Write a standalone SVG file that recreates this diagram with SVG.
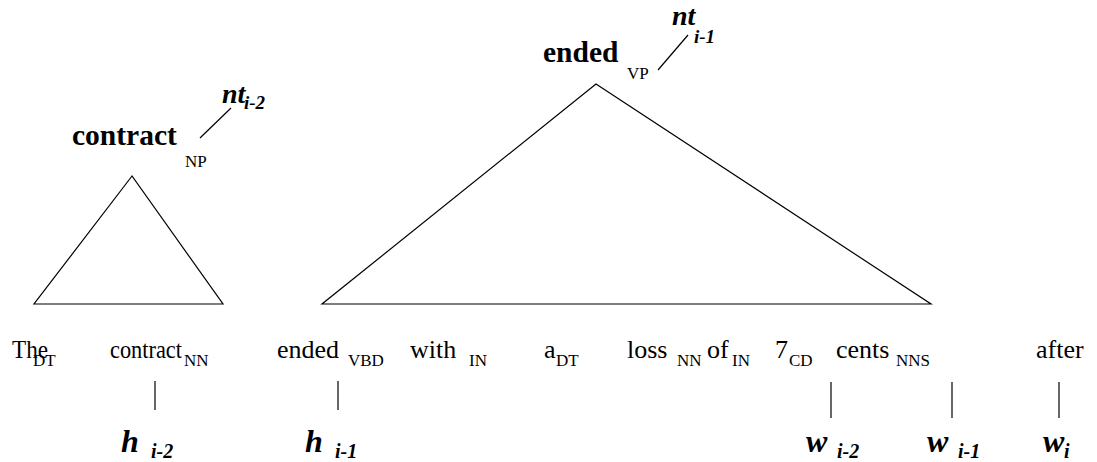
<svg xmlns="http://www.w3.org/2000/svg" width="1097" height="462" viewBox="0 0 1097 462">
<style>
text{font-family:"Liberation Serif","Times New Roman",serif;fill:#000}
.w{font-size:26px}
.s{font-size:17px}
.hb{font-size:29.5px;font-weight:bold}
.bi{font-weight:bold;font-style:italic}
.ln{stroke:#000;stroke-width:1.2;fill:none}
</style>
<rect width="1097" height="462" fill="#fff"/>
<g id="np">
<polygon class="ln" points="132,176 34,304 223,304"/>
<text class="hb" x="72" y="145">contract</text>
<text class="s" x="185" y="167">NP</text>
<text class="bi" x="222" y="103" font-size="28">nt</text>
<text class="bi" x="244" y="109" font-size="19">i-2</text>
</g>
<g id="vp">
<polygon class="ln" points="596,84 322,304 931,304"/>
<text class="hb" x="543" y="62">ended</text>
<text class="s" x="627" y="79">VP</text>
<text class="bi" x="672" y="25" font-size="28">nt</text>
<text class="bi" x="694" y="43" font-size="19">i-1</text>
</g>
<g id="words">
<text class="w" x="12" y="358" textLength="36" lengthAdjust="spacingAndGlyphs">The</text><text class="s" x="33" y="366">DT</text>
<text class="w" x="110" y="358" textLength="72" lengthAdjust="spacingAndGlyphs">contract</text><text class="s" x="184" y="366">NN</text>
<text class="w" x="277" y="358">ended</text><text class="s" x="348" y="366">VBD</text>
<text class="w" x="410" y="358">with</text><text class="s" x="469" y="366">IN</text>
<text class="w" x="544" y="358">a</text><text class="s" x="556" y="366">DT</text>
<text class="w" x="627" y="358">loss</text><text class="s" x="677" y="366">NN</text>
<text class="w" x="707" y="358">of</text><text class="s" x="732" y="366">IN</text>
<text class="w" x="775" y="358">7</text><text class="s" x="789" y="366">CD</text>
<text class="w" x="836" y="358">cents</text><text class="s" x="896" y="366">NNS</text>
<text class="w" x="1036" y="358">after</text>
</g>
<g id="labels">
<text class="bi" x="121" y="452" font-size="32">h</text><text class="bi" x="151" y="458" font-size="20">i-2</text>
<text class="bi" x="305" y="452" font-size="32">h</text><text class="bi" x="335" y="458" font-size="20">i-1</text>
<text class="bi" x="806" y="452" font-size="32">w</text><text class="bi" x="837" y="458" font-size="20">i-2</text>
<text class="bi" x="927" y="452" font-size="32">w</text><text class="bi" x="958" y="458" font-size="20">i-1</text>
<text class="bi" x="1043" y="452" font-size="32">w</text><text class="bi" x="1064" y="458" font-size="20">i</text>
</g>
<g id="connectors">
<line class="ln" x1="200" y1="138" x2="231" y2="108"/>
<line class="ln" x1="658" y1="70" x2="688" y2="35"/>
<line class="ln" x1="155" y1="381" x2="155" y2="410"/>
<line class="ln" x1="338" y1="381" x2="338" y2="410"/>
<line class="ln" x1="831" y1="382" x2="831" y2="418"/>
<line class="ln" x1="952" y1="382" x2="952" y2="418"/>
<line class="ln" x1="1059" y1="382" x2="1059" y2="418"/>
</g>
</svg>
